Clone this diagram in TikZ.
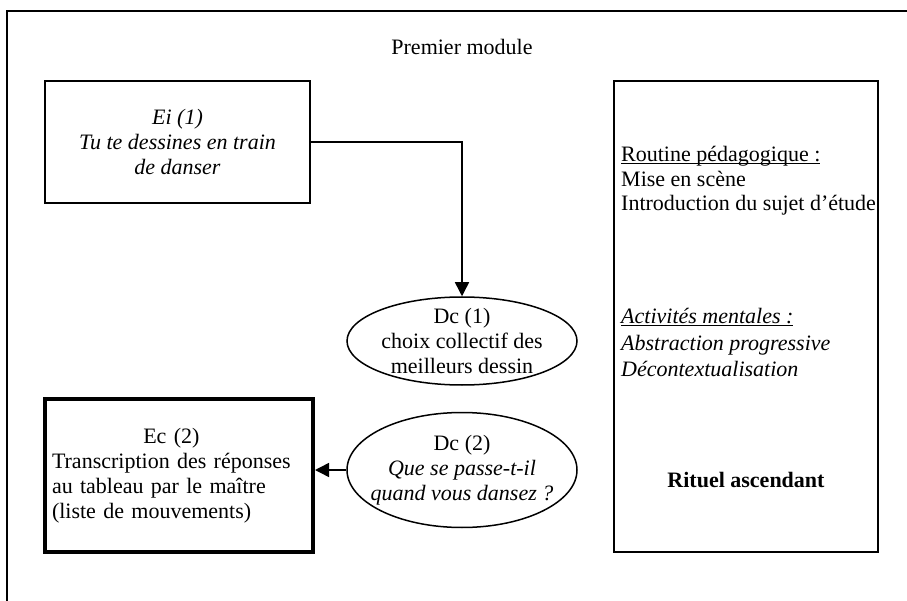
\documentclass[tikz,border=0pt]{standalone}
\usepackage{fontspec}
\setmainfont{Liberation Serif}
\usetikzlibrary{arrows.meta,shapes.geometric,positioning}
\newcommand{\souligne}[1]{\underline{\smash{#1}}}
\tikzset{
    cadre/.style={draw=black, line width=1.5pt},
    boite/.style={draw=black, line width=1.5pt, rectangle, inner sep=0pt, align=center,
        font=\fontsize{22}{25}\selectfont},
    boitegrasse/.style={boite, line width=4pt},
    bulle/.style={draw=black, line width=1.5pt, ellipse, inner xsep=-40pt, inner ysep=-30pt,
        align=center, font=\fontsize{22}{25}\selectfont},
    fleche/.style={draw=black, line width=1.5pt, -{Triangle[length=14pt,width=14pt]}},
    texte/.style={anchor=base west, inner sep=0pt, font=\fontsize{22}{25}\selectfont},
}

\begin{document}
\begin{tikzpicture}[x=1pt, y=-1pt]
    \useasboundingbox (0,0) rectangle (907,601);
    % cadre du module
    \draw[cadre] (907,11) -- (7,11) -- (7,601);
    \node[font=\fontsize{22}{25}\selectfont] (titre) at (462,47) {Premier module};
    % colonne de gauche
    \node[boite, minimum width=265pt, minimum height=122pt,
        font=\fontsize{22}{25}\selectfont\itshape] (ei1) at (177.5,142)
        {Ei (1)\\Tu te dessines en train\\de danser};
    \node[bulle, minimum width=230pt, minimum height=88pt] (dc1) at (462,341)
        {Dc (1)\\choix collectif des\\meilleurs dessin};
    \node[bulle, minimum width=230pt, minimum height=115pt] (dc2) at (462,470)
        {Dc (2)\\\textit{Que se passe-t-il}\\\textit{quand vous dansez ?}};
    \node[boitegrasse, minimum width=268pt, minimum height=153pt, text width=254pt, align=left] (ec2) at (179,475.5)
        {\begin{tabular}{@{}l@{}}\multicolumn{1}{@{}c@{}}{Ec (2)}\\Transcription des réponses\\au tableau par le maître\\(liste de mouvements)\end{tabular}};
    \draw[fleche] (ei1.east) -| (dc1.north);
    \draw[fleche] (dc2.west) -- (dc2.west -| ec2.east);
    % colonne de droite
    \node[boite, minimum width=264pt, minimum height=471pt] (routine) at (746,316.5) {};
    \node[texte] (rp) at (621,162) {\souligne{Routine pédagogique :}};
    \node[texte] (mise) at (621,187) {Mise en scène};
    \node[texte] (intro) at (621,211) {Introduction du sujet d’étude};
    \node[texte, font=\fontsize{22}{25}\selectfont\itshape] (am) at (621,324) {\souligne{Activités mentales :}};
    \node[texte, font=\fontsize{22}{25}\selectfont\itshape] (abs) at (621,350) {Abstraction progressive};
    \node[texte, font=\fontsize{22}{25}\selectfont\itshape] (dec) at (621,376) {Décontextualisation};
    \node[anchor=base, inner sep=0pt, font=\fontsize{22}{25}\selectfont\bfseries] (rituel) at (746,487) {Rituel ascendant};
\end{tikzpicture}
\end{document}
